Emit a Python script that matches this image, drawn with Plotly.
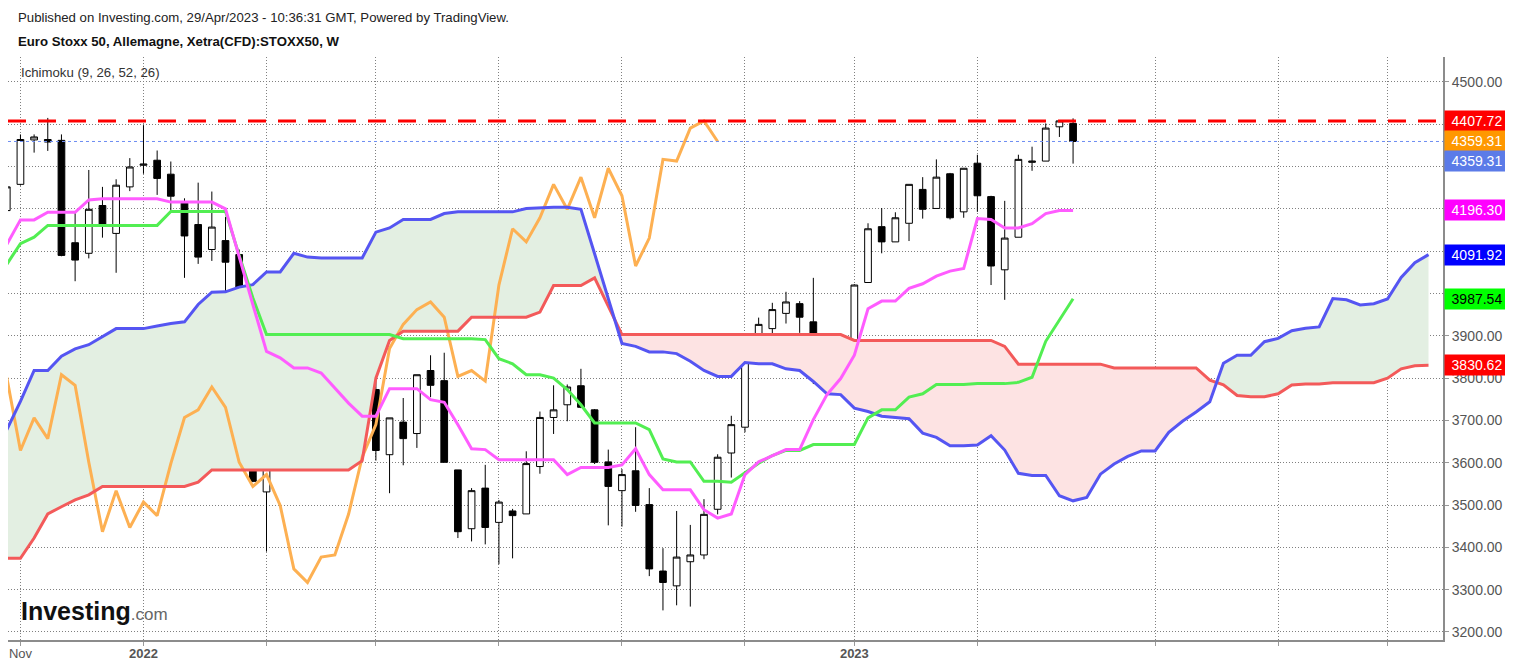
import numpy as np
import pandas as pd
import plotly.graph_objects as go

# weekly bars, first one is the partly hidden week of 25 Oct 2021
bar_dates = pd.date_range("2021-10-25", periods=79, freq="W-MON")
cloud_dates = pd.date_range("2021-10-25", periods=105, freq="W-MON")
chikou_dates = pd.date_range("2021-10-25", periods=53, freq="W-MON")

opens = [4196, 4258, 4363, 4364, 4362, 4120, 4095, 4208, 4142, 4252, 4303, 4315, 4282, 4214,
         4163, 4104, 4125, 4092, 3942, 3531, 3695, 3903, 3870, 3927, 3850, 3843, 3830, 3773,
         3619, 3696, 3669, 3818, 3794, 3583, 3444, 3540, 3459, 3486, 3479, 3591, 3707, 3737,
         3782, 3725, 3602, 3534, 3581, 3501, 3344, 3309, 3366, 3382, 3490, 3623, 3684, 3873,
         3917, 3953, 3976, 3933, 3808, 3830, 3801, 4026, 4158, 4122, 4166, 4246, 4201, 4283,
         4193, 4308, 4229, 4056, 4133, 4310, 4313, 4394, 4402]
highs = [4260, 4376, 4376, 4415, 4376, 4191, 4292, 4252, 4270, 4320, 4398, 4338, 4312, 4225,
         4262, 4241, 4181, 4104, 3944, 3802, 3931, 3938, 4025, 3972, 3871, 3957, 3836, 3815,
         3706, 3753, 3808, 3854, 3860, 3583, 3540, 3595, 3512, 3491, 3627, 3721, 3783, 3785,
         3822, 3727, 3631, 3585, 3684, 3540, 3398, 3486, 3453, 3514, 3620, 3711, 3891, 3943,
         3978, 4004, 3982, 4037, 3891, 3856, 4022, 4166, 4202, 4192, 4258, 4275, 4317, 4285,
         4296, 4328, 4231, 4219, 4328, 4347, 4402, 4408, 4414]
lows = [4190, 4255, 4333, 4337, 4088, 4029, 4083, 4132, 4049, 4242, 4283, 4233, 4191, 4037,
        4070, 4077, 4006, 3769, 3554, 3390, 3645, 3848, 3870, 3796, 3765, 3796, 3676, 3605,
        3528, 3594, 3635, 3755, 3601, 3422, 3414, 3407, 3360, 3374, 3479, 3574, 3668, 3698,
        3729, 3597, 3452, 3449, 3484, 3332, 3251, 3263, 3260, 3372, 3478, 3565, 3672, 3845,
        3899, 3929, 3907, 3786, 3765, 3793, 3799, 4026, 4095, 4122, 4124, 4177, 4201, 4175,
        4179, 4193, 4020, 3985, 4133, 4290, 4313, 4370, 4307]
closes = [4252, 4364, 4370, 4358, 4090, 4079, 4199, 4162, 4256, 4299, 4306, 4272, 4230, 4136,
          4086, 4157, 4074, 3971, 3556, 3688, 3903, 3867, 3920, 3858, 3847, 3840, 3802, 3629,
          3706, 3657, 3808, 3783, 3601, 3437, 3534, 3447, 3507, 3475, 3598, 3707, 3725, 3779,
          3731, 3601, 3544, 3572, 3499, 3349, 3317, 3377, 3382, 3478, 3613, 3690, 3870, 3927,
          3962, 3980, 3944, 3804, 3818, 3793, 4020, 4153, 4122, 4179, 4258, 4199, 4275, 4179,
          4296, 4231, 4065, 4131, 4317, 4313, 4391, 4408, 4359.31]

tenkan = [4116, 4174, 4174, 4192, 4192, 4192, 4221, 4224, 4224, 4224, 4224, 4224, 4216, 4216,
          4216, 4216, 4200, 4084, 3974, 3863, 3848, 3824, 3824, 3812, 3777, 3741, 3710, 3710,
          3775, 3775, 3775, 3749, 3743, 3690, 3633, 3631, 3607, 3607, 3607, 3607, 3607, 3572,
          3589, 3589, 3589, 3595, 3633, 3572, 3536, 3536, 3536, 3489, 3469, 3479, 3572, 3602,
          3617, 3631, 3631, 3702, 3761, 3799, 3854, 3964, 3982, 3982, 4012, 4023, 4041, 4053,
          4059, 4177, 4175, 4155, 4155, 4165, 4189, 4196, 4196.30]
kijun = [4069, 4118, 4133, 4161, 4161, 4161, 4161, 4161, 4161, 4161, 4161, 4161, 4194, 4194,
         4194, 4194, 4194, 4090, 3990, 3903, 3903, 3903, 3903, 3903, 3903, 3903, 3903, 3903,
         3903, 3893, 3893, 3893, 3893, 3893, 3893, 3891, 3846, 3834, 3808, 3808, 3800, 3773,
         3737, 3694, 3694, 3694, 3694, 3678, 3609, 3602, 3602, 3556, 3556, 3554, 3576, 3599,
         3617, 3629, 3629, 3643, 3643, 3643, 3643, 3706, 3725, 3725, 3755, 3763, 3785, 3785,
         3785, 3787, 3787, 3787, 3790, 3802, 3887, 3938, 3987.54]
chikou = [3802, 3629, 3706, 3657, 3808, 3783, 3601, 3437, 3534, 3447, 3507, 3475, 3598, 3707,
          3725, 3779, 3731, 3601, 3544, 3572, 3499, 3349, 3317, 3377, 3382, 3478, 3613, 3690,
          3870, 3927, 3962, 3980, 3944, 3804, 3818, 3793, 4020, 4153, 4122, 4179, 4258, 4199,
          4275, 4179, 4296, 4231, 4065, 4131, 4317, 4313, 4391, 4408, 4359.31]
senkou_a = [3678, 3745, 3818, 3818, 3852, 3869, 3879, 3899, 3917, 3917, 3917, 3923, 3929, 3933,
            3974, 4003, 4004, 4015, 4021, 4051, 4051, 4095, 4086, 4084, 4084, 4084, 4084, 4145,
            4155, 4175, 4175, 4175, 4189, 4193, 4193, 4193, 4193, 4193, 4201, 4203, 4204, 4204,
            4199, 4094, 3989, 3882, 3875, 3862, 3862, 3858, 3840, 3818, 3804, 3804, 3837, 3834,
            3834, 3822, 3818, 3792, 3763, 3761, 3729, 3721, 3710, 3707, 3704, 3670, 3660, 3640,
            3640, 3642, 3664, 3630, 3575, 3570, 3570, 3522, 3510, 3518, 3573, 3597, 3615, 3628,
            3628, 3672, 3698, 3720, 3744, 3835, 3854, 3854, 3886, 3894, 3912, 3918, 3921, 3988,
            3985, 3973, 3976, 3987, 4038, 4073, 4091.92]
senkou_b = [3374, 3374, 3422, 3479, 3496, 3512, 3524, 3544, 3544, 3544, 3544, 3544, 3544, 3544,
            3554, 3583, 3583, 3583, 3583, 3583, 3583, 3583, 3583, 3583, 3583, 3583, 3605, 3800,
            3889, 3911, 3911, 3911, 3911, 3911, 3944, 3944, 3944, 3944, 3944, 3956, 4019, 4019,
            4019, 4037, 3971, 3903, 3903, 3903, 3903, 3903, 3903, 3903, 3903, 3903, 3903, 3903,
            3903, 3903, 3903, 3903, 3903, 3903, 3889, 3889, 3889, 3889, 3889, 3889, 3889, 3889,
            3889, 3889, 3889, 3875, 3833, 3833, 3833, 3833, 3833, 3833, 3833, 3824, 3824, 3824,
            3824, 3824, 3824, 3824, 3795, 3784, 3759, 3756, 3756, 3763, 3784, 3786, 3786, 3789,
            3789, 3789, 3789, 3800, 3822, 3829, 3830.62]

resistance = 4407.72
last_price = 4359.31

tick_dates = ["2021-11-01", "2022-01-03", "2022-03-07", "2022-05-02", "2022-07-04", "2022-09-05",
              "2022-11-07", "2023-01-02", "2023-03-06", "2023-06-05", "2023-08-07", "2023-10-02"]
tick_text = ["Nov", "<b>2022</b>", "", "", "", "", "", "<b>2023</b>", "", "", "", ""]

# price ticks; the ones hidden behind the coloured price tags carry no text
price_ticks = [3200, 3300, 3400, 3500, 3600, 3700, 3800, 3900, 4000, 4100, 4200, 4300, 4400, 4500]
price_tick_text = ["3200.00", "3300.00", "3400.00", "3500.00", "3600.00", "3700.00", "3800.00",
                   "3900.00", "", "", "", "", "", "4500.00"]

price_labels = [
    (4407.72, "#ff0000", "white", 0),
    (4359.31, "#ff9800", "white", 0),
    (4359.31, "#5b7be8", "white", -20),
    (4196.30, "#ff00ff", "white", 0),
    (4091.92, "#0000ff", "white", 0),
    (3987.54, "#00ff00", "black", 0),
    (3830.62, "#ff0000", "white", 0),
]

FONT = "Liberation Sans, Arial, sans-serif"


def with_crossings(dates, a, b):
    # insert the points where the two cloud lines cross so the fills meet exactly
    t = dates.astype("int64").to_numpy().astype(float)
    a = np.asarray(a, dtype=float)
    b = np.asarray(b, dtype=float)
    xs, ya, yb = [t[0]], [a[0]], [b[0]]
    for i in range(1, len(t)):
        d0 = a[i - 1] - b[i - 1]
        d1 = a[i] - b[i]
        if d0 * d1 < 0:
            f = d0 / (d0 - d1)
            xs.append(t[i - 1] + f * (t[i] - t[i - 1]))
            v = a[i - 1] + f * (a[i] - a[i - 1])
            ya.append(v)
            yb.append(v)
        xs.append(t[i])
        ya.append(a[i])
        yb.append(b[i])
    return pd.to_datetime(np.array(xs).astype("int64")), np.array(ya), np.array(yb)


cx, ca, cb = with_crossings(cloud_dates, senkou_a, senkou_b)
top = np.maximum(ca, cb)

fig = go.Figure()

# cloud fills
fig.add_trace(go.Scatter(x=cx, y=cb, mode="lines", line=dict(width=0), hoverinfo="skip"))
fig.add_trace(go.Scatter(x=cx, y=top, mode="lines", line=dict(width=0), fill="tonexty",
                         fillcolor="#e3efe2", hoverinfo="skip"))
fig.add_trace(go.Scatter(x=cx, y=ca, mode="lines", line=dict(width=0), hoverinfo="skip"))
fig.add_trace(go.Scatter(x=cx, y=top, mode="lines", line=dict(width=0), fill="tonexty",
                         fillcolor="#fde3e3", hoverinfo="skip"))

fig.add_trace(go.Scatter(x=chikou_dates, y=chikou, mode="lines", name="Chikou",
                         line=dict(color="#fdb052", width=3)))
fig.add_trace(go.Scatter(x=cloud_dates, y=senkou_b, mode="lines", name="Senkou B",
                         line=dict(color="#f35a5a", width=3)))
fig.add_trace(go.Scatter(x=cloud_dates, y=senkou_a, mode="lines", name="Senkou A",
                         line=dict(color="#5555f2", width=3)))
fig.add_trace(go.Scatter(x=bar_dates, y=kijun, mode="lines", name="Kijun",
                         line=dict(color="#52ee52", width=3)))
fig.add_trace(go.Scatter(x=bar_dates, y=tenkan, mode="lines", name="Tenkan",
                         line=dict(color="#ff5cff", width=3)))

fig.add_trace(go.Candlestick(
    x=bar_dates, open=opens, high=highs, low=lows, close=closes,
    whiskerwidth=0,
    increasing=dict(line=dict(color="#000000", width=1), fillcolor="#ffffff"),
    decreasing=dict(line=dict(color="#000000", width=1), fillcolor="#000000"),
    name="STOXX50",
))

# horizontal levels
fig.add_shape(type="line", xref="paper", x0=0, x1=1, y0=last_price, y1=last_price,
              line=dict(color="#6c8cf2", width=1, dash="dot"))
fig.add_shape(type="line", xref="paper", x0=0, x1=1, y0=resistance, y1=resistance,
              line=dict(color="#ff0000", width=3, dash="18px,12px"))

for value, bg, fg, shift in price_labels:
    fig.add_annotation(x=1, xref="paper", y=value, yref="y", yshift=shift, xanchor="left",
                       xshift=1, text="{:.2f}".format(value), showarrow=False, bgcolor=bg,
                       width=62, height=18, align="center",
                       font=dict(family=FONT, size=14, color=fg))

fig.add_annotation(x=0.0056, y=1.0686, xref="paper", yref="paper", xanchor="left",
                   yanchor="middle", showarrow=False,
                   text="Published on Investing.com, 29/Apr/2023 - 10:36:31 GMT, Powered by TradingView.",
                   font=dict(family=FONT, size=13.2, color="#222222"))
fig.add_annotation(x=0.0056, y=1.0274, xref="paper", yref="paper", xanchor="left",
                   yanchor="middle", showarrow=False,
                   text="<b>Euro Stoxx 50, Allemagne, Xetra(CFD):STOXX50, W</b>",
                   font=dict(family=FONT, size=13.2, color="#111111"))
fig.add_annotation(x=0.0077, y=0.9726, xref="paper", yref="paper", xanchor="left",
                   yanchor="middle", showarrow=False, text="Ichimoku (9, 26, 52, 26)",
                   font=dict(family=FONT, size=13.2, color="#333333"))
fig.add_annotation(x=0.008, y=0.05, xref="paper", yref="paper", xanchor="left",
                   yanchor="middle", showarrow=False,
                   text="<b>Investing</b><span style='font-size:17px;color:#666666'>.com</span>",
                   font=dict(family=FONT, size=25, color="#111111"))

# the page puts the figure 8px in from the top-left corner
fig.update_layout(
    width=1505,
    height=660,
    margin=dict(l=0, r=70, t=49, b=28),
    paper_bgcolor="white",
    plot_bgcolor="white",
    showlegend=False,
    hovermode="x",
    font=dict(family=FONT),
    xaxis=dict(
        type="date",
        range=[pd.Timestamp("2021-11-01") - pd.Timedelta(weeks=0.91),
               pd.Timestamp("2021-11-01") + pd.Timedelta(weeks=104.06)],
        tickvals=tick_dates,
        ticktext=tick_text,
        tickfont=dict(size=13, color="#555555"),
        ticks="outside", ticklen=4, tickcolor="#999999",
        ticklabelstandoff=-4,
        showgrid=True, gridcolor="#808080", griddash="1px,2px", gridwidth=1,
        showline=True, linecolor="#8c8c8c", linewidth=2,
        rangeslider=dict(visible=False),
        zeroline=False,
    ),
    yaxis=dict(
        side="right",
        range=[3181, 4559],
        tickvals=price_ticks,
        ticktext=price_tick_text,
        tickfont=dict(size=14, color="#555555"),
        ticks="outside", ticklen=4, tickcolor="#999999",
        showgrid=True, gridcolor="#808080", griddash="1px,2px", gridwidth=1,
        showline=True, linecolor="#8c8c8c", linewidth=2,
        zeroline=False,
    ),
)

fig.write_html("out.html")
